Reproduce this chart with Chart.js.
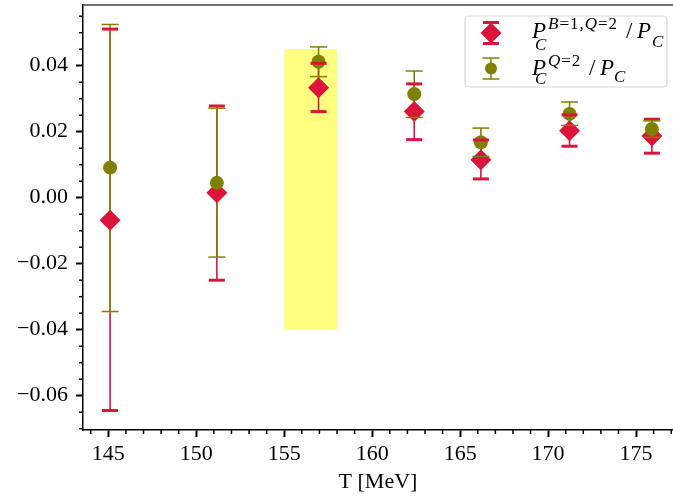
<!DOCTYPE html>
<html lang="en">
  <head>
    <meta charset="utf-8" />
    <title>P_C ratios vs T</title>
    <style>
      * {
        margin: 0;
        padding: 0;
      }
      body {
        background: white;
      }
      .chartBox {
        width: 673px;
        height: 496px;
      }
    </style>
  </head>
  <body>
    <div class="chartBox">
      <canvas id="myChart" width="673" height="496"></canvas>
    </div>

    <script src="https://cdn.jsdelivr.net/npm/chart.js@4.4.0/dist/chart.umd.min.js"></script>

    <script>
      // data block
      const temps = [145.1, 151.17, 156.95, 162.39, 166.18, 171.22, 175.9];

      const bqVal = [-0.0068, 0.0015, 0.0333, 0.0261, 0.0115, 0.0203, 0.0187];
      const bqLow = [-0.0645, -0.025, 0.0261, 0.0176, 0.0057, 0.0156, 0.0135];
      const bqHigh = [0.0511, 0.0278, 0.0407, 0.0345, 0.0175, 0.0251, 0.0238];

      const qVal = [0.0091, 0.0045, 0.0412, 0.0314, 0.0168, 0.0254, 0.0208];
      const qLow = [-0.0345, -0.018, 0.0367, 0.0243, 0.0125, 0.0219, 0.0183];
      const qHigh = [0.0525, 0.0271, 0.0457, 0.0384, 0.0211, 0.029, 0.0233];

      const xTicks = [145, 150, 155, 160, 165, 170, 175];
      const yTicks = [-0.06, -0.04, -0.02, 0, 0.02, 0.04];

      const bandT = [155, 158];
      const bandY = [-0.04, 0.045];

      const RED = "#dc143c";
      const OLIVE = "#808000";
      const SERIF = '"Liberation Serif", "DejaVu Serif", serif';

      // error bar styles
      const errSets = [
        { lo: bqLow, hi: bqHigh, color: RED, line: 1.6, cap: 8, capWidth: 3 },
        { lo: qLow, hi: qHigh, color: OLIVE, line: 1.6, cap: 8.5, capWidth: 1.5 },
      ];

      // band + error bars plugin
      const errorBars = {
        id: "errorBars",
        beforeDatasetsDraw(chart) {
          const { ctx, scales: { x, y } } = chart;
          ctx.save();
          const x0 = x.getPixelForValue(bandT[0]);
          const x1 = x.getPixelForValue(bandT[1]);
          const y0 = y.getPixelForValue(bandY[1]);
          const y1 = y.getPixelForValue(bandY[0]);
          ctx.fillStyle = "rgba(255, 255, 0, 0.5)";
          ctx.fillRect(x0, y0, x1 - x0, y1 - y0);

          errSets.forEach((s) => {
            ctx.strokeStyle = s.color;
            ctx.lineWidth = s.line;
            temps.forEach((t, i) => {
              const px = x.getPixelForValue(t);
              ctx.beginPath();
              ctx.moveTo(px, y.getPixelForValue(s.lo[i]));
              ctx.lineTo(px, y.getPixelForValue(s.hi[i]));
              ctx.stroke();
            });
          });
          ctx.restore();
        },
        afterDatasetsDraw(chart) {
          const { ctx, scales: { x, y } } = chart;
          ctx.save();
          errSets.forEach((s) => {
            ctx.strokeStyle = s.color;
            ctx.lineWidth = s.capWidth;
            temps.forEach((t, i) => {
              const px = x.getPixelForValue(t);
              [s.lo[i], s.hi[i]].forEach((v) => {
                const py = y.getPixelForValue(v);
                ctx.beginPath();
                ctx.moveTo(px - s.cap, py);
                ctx.lineTo(px + s.cap, py);
                ctx.stroke();
              });
            });
          });
          ctx.restore();
        },
      };

      // minor ticks, top spine, legend
      function drawCap(ctx, x, y, half, w, color) {
        ctx.strokeStyle = color;
        ctx.lineWidth = w;
        ctx.beginPath();
        ctx.moveTo(x - half, y);
        ctx.lineTo(x + half, y);
        ctx.stroke();
      }

      // runs without x continue where the previous run ended
      function drawRuns(ctx, runs) {
        let cx = 0;
        runs.forEach((r) => {
          ctx.font = (r.it ? "italic " : "") + r.size + "px " + SERIF;
          ctx.letterSpacing = (r.ls || 0) + "px";
          if (r.x !== undefined) cx = r.x;
          ctx.fillText(r.t, cx, r.y);
          cx += ctx.measureText(r.t).width;
        });
        ctx.letterSpacing = "0px";
      }

      const decorations = {
        id: "decorations",
        afterDraw(chart) {
          const { ctx, chartArea: { top, bottom, left, right }, scales: { x, y } } = chart;
          ctx.save();

          // top spine
          ctx.strokeStyle = "#444";
          ctx.lineWidth = 1.5;
          ctx.beginPath();
          ctx.moveTo(left, top);
          ctx.lineTo(right, top);
          ctx.stroke();

          // minor ticks
          ctx.strokeStyle = "#000";
          ctx.lineWidth = 1.5;
          for (let k = 144; k <= 177; k++) {
            if (k % 5 === 0) continue;
            const px = x.getPixelForValue(k);
            ctx.beginPath();
            ctx.moveTo(px, bottom);
            ctx.lineTo(px, bottom + 4);
            ctx.stroke();
          }
          for (let k = -14; k <= 11; k++) {
            if (k % 4 === 0) continue;
            const py = y.getPixelForValue(k * 0.005);
            ctx.beginPath();
            ctx.moveTo(left, py);
            ctx.lineTo(left - 4, py);
            ctx.stroke();
          }

          // legend box
          ctx.fillStyle = "rgba(255, 255, 255, 0.8)";
          ctx.strokeStyle = "#d5d5d5";
          ctx.lineWidth = 1.2;
          ctx.beginPath();
          ctx.roundRect(465, 16, 202, 71, 4);
          ctx.fill();
          ctx.stroke();

          // legend markers
          const mx = 491;
          ctx.strokeStyle = RED;
          ctx.lineWidth = 1.6;
          ctx.beginPath();
          ctx.moveTo(mx, 22);
          ctx.lineTo(mx, 44);
          ctx.stroke();
          ctx.fillStyle = RED;
          ctx.beginPath();
          ctx.moveTo(mx - 10.5, 33);
          ctx.lineTo(mx, 22.5);
          ctx.lineTo(mx + 10.5, 33);
          ctx.lineTo(mx, 43.5);
          ctx.closePath();
          ctx.fill();
          drawCap(ctx, mx, 22.5, 8, 3, RED);
          drawCap(ctx, mx, 43.5, 8, 3, RED);

          ctx.strokeStyle = OLIVE;
          ctx.lineWidth = 1.5;
          ctx.beginPath();
          ctx.moveTo(mx, 58);
          ctx.lineTo(mx, 79);
          ctx.stroke();
          ctx.fillStyle = OLIVE;
          ctx.beginPath();
          ctx.arc(mx, 68.5, 6, 0, Math.PI * 2);
          ctx.fill();
          drawCap(ctx, mx, 58, 8.5, 1.5, OLIVE);
          drawCap(ctx, mx, 79, 8.5, 1.5, OLIVE);

          // legend labels
          ctx.fillStyle = "#000";
          ctx.textAlign = "left";
          ctx.textBaseline = "alphabetic";
          drawRuns(ctx, [
            { t: "P", it: true, size: 23, x: 532, y: 38 },
            { t: "C", it: true, size: 17, x: 535, y: 49.5 },
            { t: "B", it: true, size: 17, x: 548, y: 29, ls: 1 },
            { t: "=1,", size: 17, y: 29, ls: 1 },
            { t: "Q", it: true, size: 17, y: 29, ls: 1 },
            { t: "=2", size: 17, y: 29, ls: 1 },
            { t: "/", size: 23, x: 626, y: 38 },
            { t: "P", it: true, size: 23, x: 637, y: 38 },
            { t: "C", it: true, size: 17, x: 652, y: 47 },

            { t: "P", it: true, size: 23, x: 532, y: 74.5 },
            { t: "C", it: true, size: 17, x: 535, y: 84 },
            { t: "Q", it: true, size: 17, x: 548, y: 66, ls: 1 },
            { t: "=2", size: 17, y: 66, ls: 1 },
            { t: "/", size: 23, x: 589, y: 74.5 },
            { t: "P", it: true, size: 23, x: 600, y: 74.5 },
            { t: "C", it: true, size: 17, x: 614, y: 82 },
          ]);

          ctx.restore();
        },
      };

      function noEdgePadding(s) {
        s.paddingLeft = 0;
        s.paddingRight = 0;
        s.paddingTop = 0;
        s.paddingBottom = 0;
      }

      // config block
      const config = {
        type: "scatter",
        data: {
          datasets: [
            {
              label: "P_C^{B=1,Q=2} / P_C",
              data: temps.map((t, i) => ({ x: t, y: bqVal[i] })),
              pointStyle: "rectRot",
              pointRadius: 10.5,
              pointBorderWidth: 0,
              backgroundColor: RED,
              borderColor: RED,
              order: 2,
            },
            {
              label: "P_C^{Q=2} / P_C",
              data: temps.map((t, i) => ({ x: t, y: qVal[i] })),
              pointStyle: "circle",
              pointRadius: 7,
              pointBorderWidth: 0,
              backgroundColor: OLIVE,
              borderColor: OLIVE,
              order: 1,
            },
          ],
        },
        options: {
          responsive: false,
          animation: false,
          layout: {
            autoPadding: false,
            padding: { top: 5, right: 0, bottom: 0, left: 0 },
          },
          plugins: {
            legend: { display: false },
            tooltip: { enabled: false },
          },
          scales: {
            x: {
              type: "linear",
              min: 143.56,
              max: 177.1,
              afterBuildTicks: (s) => {
                s.ticks = xTicks.map((v) => ({ value: v }));
              },
              afterFit: (s) => {
                s.height = 66;
                noEdgePadding(s);
              },
              ticks: {
                font: { family: SERIF, size: 22 },
                color: "#000",
                padding: 4,
                maxRotation: 0,
                autoSkip: false,
                callback: (v) => String(v),
              },
              grid: {
                drawOnChartArea: false,
                drawTicks: true,
                tickLength: 7,
                tickWidth: 2,
                tickColor: "#000",
              },
              border: { display: true, color: "#000", width: 1.5 },
              title: {
                display: true,
                text: "T [MeV]",
                font: { family: SERIF, size: 22 },
                color: "#000",
                padding: { top: 0, bottom: 1 },
              },
            },
            y: {
              type: "linear",
              min: -0.0704,
              max: 0.0584,
              afterBuildTicks: (s) => {
                s.ticks = yTicks.map((v) => ({ value: v }));
              },
              afterFit: (s) => {
                s.width = 83;
                noEdgePadding(s);
              },
              ticks: {
                font: { family: SERIF, size: 22 },
                color: "#000",
                padding: 8,
                autoSkip: false,
                callback: (v) => (v < 0 ? "\u2212" : "") + Math.abs(v).toFixed(2),
              },
              grid: {
                drawOnChartArea: false,
                drawTicks: true,
                tickLength: 7,
                tickWidth: 2,
                tickColor: "#000",
              },
              border: { display: true, color: "#000", width: 1.5 },
            },
          },
        },
        plugins: [errorBars, decorations],
      };

      // init render block
      const myChart = new Chart(document.getElementById("myChart"), config);
    </script>
  </body>
</html>
